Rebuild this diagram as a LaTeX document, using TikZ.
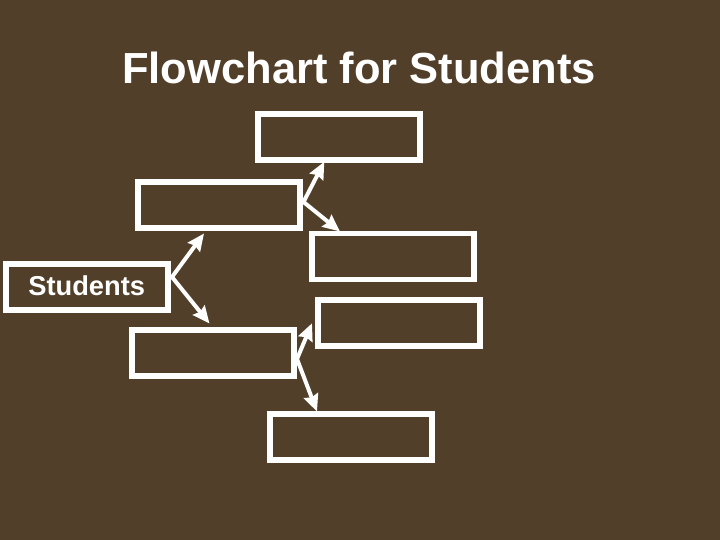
\documentclass[tikz,border=0pt]{standalone}
\usepackage{fontspec}
\setmainfont{Liberation Sans}
\usetikzlibrary{arrows.meta}
\definecolor{bgbrown}{RGB}{82,63,41}
\begin{document}
\begin{tikzpicture}[x=1pt,y=-1pt,
  box/.style={draw=white,line width=5.7pt,minimum width=162pt,minimum height=46pt,inner sep=0pt,outer sep=0pt},
  arr/.style={draw=white,line width=4pt,line cap=round,-{Stealth[length=17pt,width=15pt,inset=2pt]}},
  lbl/.style={text=white,font=\bfseries,inner sep=0pt}]
\fill[bgbrown] (0,0) rectangle (720,540);
\useasboundingbox (0,0) rectangle (720,540);
\node[lbl,font=\bfseries\fontsize{43.5}{50}\selectfont,anchor=base] (title) at (359,84) {Flowchart for Students};
\node[box] (S) at (87,287.1) {};
\node[lbl,font=\bfseries\fontsize{27.3}{32}\selectfont,anchor=base] (stxt) at (86.7,295) {Students};
\node[box] (A) at (219,205) {};
\node[box] (T) at (339,137) {};
\node[box] (R1) at (393.2,256.5) {};
\node[box] (B) at (213,353) {};
\node[box] (R2) at (398.9,322.7) {};
\node[box] (D) at (351.2,436.9) {};
% junctions and tips
\coordinate (v1) at (172,277);
\coordinate (t1a) at (204,233.5);
\coordinate (t1b) at (209.5,323.5);
\coordinate (v2) at (303.5,202);
\coordinate (t2a) at (324.3,161.7);
\coordinate (t2b) at (340,231.5);
\coordinate (v3) at (297,359);
\coordinate (t3a) at (312,323.3);
\coordinate (t3b) at (317,411.5);
\draw[arr] (v1) -- (t1a);
\draw[arr] (v1) -- (t1b);
\draw[arr] (v2) -- (t2a);
\draw[arr] (v2) -- (t2b);
\draw[arr] (v3) -- (t3a);
\draw[arr] (v3) -- (t3b);
\end{tikzpicture}
\end{document}
